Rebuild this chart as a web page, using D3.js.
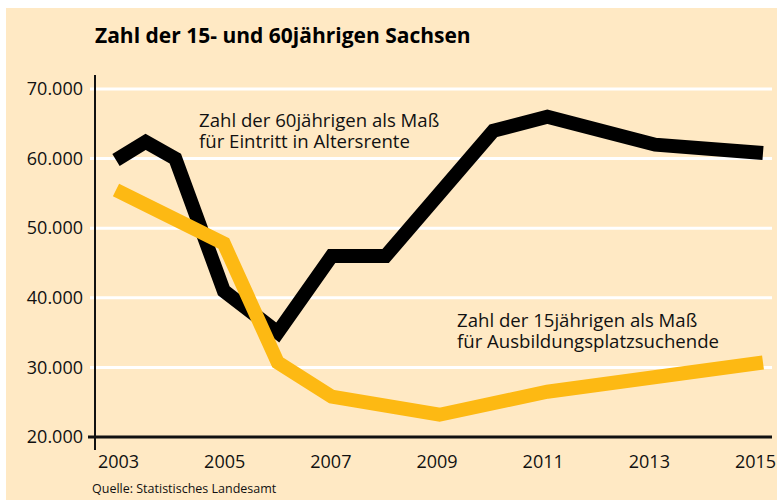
<!DOCTYPE html>
<html>
<head>
<meta charset="utf-8">
<script src="https://cdn.jsdelivr.net/npm/d3@7"></script>
<style>
  body { margin: 0; background: #fff; }
  text { font-family: "Open Sans", sans-serif; }
</style>
</head>
<body>
<div id="chart"></div>
<script>
// Zahl der 60jährigen (schwarz) und 15jährigen (gelb), Sachsen
const years60 = [2003, 2003.55, 2004.1, 2005, 2006, 2007, 2008, 2010, 2011, 2013, 2015]
const values60 = [59800, 62400, 60000, 41000, 35000, 46000, 46000, 64000, 66000, 62000, 60800]
const years15 = [2003, 2005, 2006, 2007, 2009, 2011, 2015]
const values15 = [55500, 47800, 30700, 25800, 23200, 26500, 30700]
const yTicks = [20000, 30000, 40000, 50000, 60000, 70000]
const xTicks = [2003, 2005, 2007, 2009, 2011, 2013, 2015]

const width = 777
const height = 500

const svg = d3.select('#chart')
  .append('svg')
  .attr('width', width)
  .attr('height', height)

svg.append('rect')
  .attr('x', 6).attr('y', 8)
  .attr('width', width - 6).attr('height', height - 8)
  .attr('fill', '#ffe9c4')

const x = d3.scaleLinear().domain([2003, 2015]).range([116, 763])
const y = d3.scaleLinear().domain([20000, 70000]).range([437, 89])
// the year labels sit a little inside the line ends
const xLabel = d3.scaleLinear().domain([2003, 2015]).range([118, 755])

// title
svg.append('text')
  .attr('x', 95).attr('y', 43)
  .attr('font-size', 21).attr('font-weight', 'bold')
  .attr('fill', '#000')
  .text('Zahl der 15- und 60jährigen Sachsen')

// white gridlines
svg.append('g')
  .selectAll('line')
  .data(yTicks.filter(d => d > 20000))
  .enter()
  .append('line')
  .attr('x1', 90).attr('x2', 772)
  .attr('y1', d => y(d)).attr('y2', d => y(d))
  .attr('stroke', '#fff').attr('stroke-width', 3)

// y axis labels
const fmt = d => d3.format(',')(d).replace(/,/g, '.')
const yAxis = d3.axisLeft(y).tickValues(yTicks).tickSize(0).tickPadding(12).tickFormat(fmt)
const gy = svg.append('g').attr('transform', 'translate(95,0)').call(yAxis)
gy.select('.domain').remove()
gy.selectAll('text').attr('font-size', 18).attr('fill', '#111').attr('font-family', '"Open Sans", sans-serif')

// x axis labels
const xAxis = d3.axisBottom(xLabel).tickValues(xTicks).tickSize(0).tickPadding(18).tickFormat(d3.format('d'))
const gx = svg.append('g').attr('transform', 'translate(0,437)').call(xAxis)
gx.select('.domain').remove()
gx.selectAll('text').attr('font-size', 18).attr('fill', '#111').attr('font-family', '"Open Sans", sans-serif')

// axis lines
svg.append('line')
  .attr('x1', 88).attr('x2', 772)
  .attr('y1', y(20000)).attr('y2', y(20000))
  .attr('stroke', '#111').attr('stroke-width', 3)
svg.append('line')
  .attr('x1', 95).attr('x2', 95)
  .attr('y1', 75).attr('y2', 450)
  .attr('stroke', '#111').attr('stroke-width', 2)

const line = d3.line()
  .x(d => x(d[0]))
  .y(d => y(d[1]))

svg.append('path')
  .datum(d3.zip(years60, values60))
  .attr('d', line)
  .attr('fill', 'none')
  .attr('stroke', '#000')
  .attr('stroke-width', 14)
  .attr('stroke-linejoin', 'miter')

svg.append('path')
  .datum(d3.zip(years15, values15))
  .attr('d', line)
  .attr('fill', 'none')
  .attr('stroke', '#fdb913')
  .attr('stroke-width', 14)
  .attr('stroke-linejoin', 'miter')

// annotations
const note60 = svg.append('text').attr('x', 199).attr('y', 127).attr('font-size', 18.6).attr('fill', '#111')
note60.append('tspan').attr('x', 199).text('Zahl der 60jährigen als Maß')
note60.append('tspan').attr('x', 199).attr('dy', 20.5).text('für Eintritt in Altersrente')

const note15 = svg.append('text').attr('x', 457).attr('y', 327).attr('font-size', 18.6).attr('fill', '#111')
note15.append('tspan').attr('x', 457).text('Zahl der 15jährigen als Maß')
note15.append('tspan').attr('x', 457).attr('dy', 21).text('für Ausbildungsplatzsuchende')

svg.append('text')
  .attr('x', 92).attr('y', 493)
  .attr('font-size', 12.5).attr('fill', '#111')
  .text('Quelle: Statistisches Landesamt')
</script>
</body>
</html>
